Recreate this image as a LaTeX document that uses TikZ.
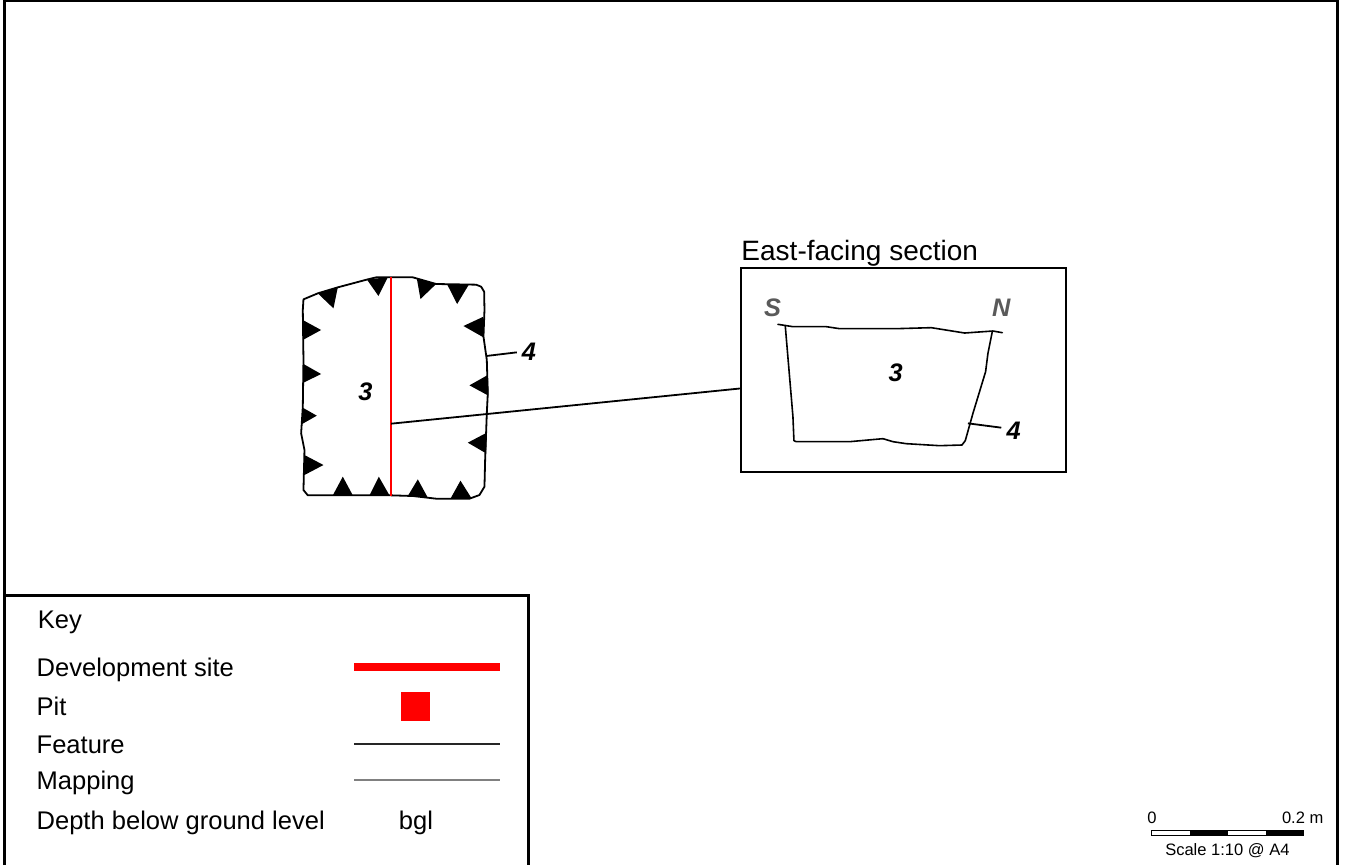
\documentclass[tikz,border=0pt]{standalone}
\usepackage{fontspec}
\setmainfont{Liberation Sans}
\begin{document}
\begin{tikzpicture}[x=0.75pt,y=-0.75pt,
  outl/.style={line width=1.35pt,line join=round,line cap=round,black},
  leader/.style={line width=1.35pt,black},
  tick/.style={fill=black,draw=none},
  num/.style={font=\fontsize{19}{19}\selectfont\bfseries\itshape,inner sep=0pt},
  compass/.style={font=\fontsize{19}{19}\selectfont\bfseries\itshape,text={rgb,255:red,90;green,90;blue,90},inner sep=0pt},
  keytext/.style={font=\fontsize{19.15}{19.15}\selectfont,anchor=base west,inner sep=0pt},
  scaletext/.style={font=\fontsize{12.4}{12.4}\selectfont,inner sep=0pt},
  frameline/.style={line width=1.6pt,black}]
\useasboundingbox[fill=white] (0,0) rectangle (1348,865);
% sheet frame
\draw[frameline] (4.5,865) -- (4.5,1) -- (1337.5,1) -- (1337.5,865);
% plan, coordinates as in 3x crop
\begin{scope}[shift={(209.6pt,-195pt)},x=0.25pt,y=-0.25pt]
\draw[outl] (72,118) -- (115,100) -- (175,82) -- (265,58) -- (290,52) -- (335,52) -- (400,52) -- (470,72) -- (590,74) -- (605,80) -- (614,95) -- (615,150) -- (612,230) -- (622,300) -- (625,400) -- (622,460) -- (617,600) -- (615,680) -- (600,705) -- (570,716) -- (470,716) -- (400,708) -- (335,706) -- (85,706) -- (72,690) -- (75,570) -- (65,520) -- (70,440) -- (72,300) -- (70,150) -- cycle;
\fill[tick] (115,100) -- (175,82) -- (162,145) -- cycle;
\fill[tick] (262,58) -- (325,52) -- (297,108) -- cycle;
\fill[tick] (412,55) -- (470,72) -- (423,117) -- cycle;
\fill[tick] (503,73) -- (568,74) -- (533,132) -- cycle;
\fill[tick] (612,170) -- (612,232) -- (552,198) -- cycle;
\fill[tick] (625,345) -- (627,407) -- (570,376) -- cycle;
\fill[tick] (622,518) -- (620,580) -- (565,548) -- cycle;
\fill[tick] (160,706) -- (220,706) -- (190,650) -- cycle;
\fill[tick] (270,706) -- (330,706) -- (298,650) -- cycle;
\fill[tick] (385,708) -- (445,713) -- (415,658) -- cycle;
\fill[tick] (513,716) -- (577,716) -- (543,662) -- cycle;
\fill[tick] (70,180) -- (125,210) -- (70,240) -- cycle;
\fill[tick] (72,312) -- (125,342) -- (72,368) -- cycle;
\fill[tick] (68,442) -- (112,467) -- (68,492) -- cycle;
\fill[tick] (75,585) -- (132,615) -- (75,645) -- cycle;
\coordinate (cuttop) at (335,52);
\coordinate (cutbot) at (335,708);
\coordinate (cutjoin) at (335,491);
\coordinate (planedge) at (620,288);
\coordinate (planlead) at (712,277);
\node[num] (plan4) at (748,276) {4};
\node[num] (plan3) at (258,396) {3};
\end{scope}
\draw[line width=2pt,red] (cuttop) -- (cutbot);
\draw[leader] (planedge) -- (planlead);
% section
\node[draw=black,line width=1.35pt,minimum width=325*0.75pt,minimum height=203.4*0.75pt,inner sep=0pt,anchor=north west] (secbox) at (739.8,267.4) {};
\node[anchor=base west,inner sep=0pt,font=\fontsize{21}{21}\selectfont] (sectitle) at (741.2,260) {East-facing section};
\draw[leader] (cutjoin) -- (secbox.west |- 0,388.5);
\begin{scope}[shift={(547.2pt,-172.5pt)},x=0.25pt,y=-0.25pt]
\draw[outl,line width=1.2pt] (145,283) -- (190,290) -- (290,290) -- (330,296) -- (500,296) -- (605,293) -- (705,309) -- (790,303) -- (818,308);
\draw[outl,line width=1.2pt] (167,288) -- (190,560) -- (193,632) -- (200,635) -- (360,635) -- (460,626) -- (490,635) -- (530,641) -- (630,647) -- (697,645) -- (707,632) -- (730,550) -- (768,425) -- (775,370) -- (788,305);
\coordinate (secedge) at (715,580);
\coordinate (seclead) at (815,593);
\node[num] (sec4) at (852,601) {4};
\node[num] (sec3) at (498,428) {3};
\node[compass] (secS) at (129,232) {S};
\node[compass] (secN) at (815,232) {N};
\end{scope}
\draw[leader] (secedge) -- (seclead);
% key
\draw[frameline] (5,595.5) -- (528.5,595.5) -- (528.5,865);
\node[keytext] (keyhead) at (37.6,628) {Key};
\node[keytext] (kdev) at (36.4,676) {Development site};
\node[keytext] (kpit) at (36.4,715) {Pit};
\node[keytext] (kfeat) at (36.4,753) {Feature};
\node[keytext] (kmap) at (36.4,789) {Mapping};
\node[keytext] (kdepth) at (36.4,829) {Depth below ground level};
\node[keytext,anchor=base] (kbgl) at (416,829) {bgl};
\fill[red] (354,663) rectangle (500,671);
\fill[red] (401,692) rectangle (430,721);
\draw[line width=1.1pt,black!85] (354,744) -- (500,744);
\draw[line width=1.1pt,black!50] (354,780) -- (500,780);
% scale bar
\draw[line width=0.6pt,black,fill=white] (1151.4,830) rectangle (1303.6,835);
\fill[black] (1190,830) rectangle (1228,835);
\fill[black] (1266,830) rectangle (1303.6,835);
\node[scaletext,anchor=base] (sc0) at (1152,823) {0};
\node[scaletext,anchor=base east] (sc2) at (1323.6,823) {0.2 m};
\node[scaletext,anchor=base] (sclab) at (1227.4,855) {Scale 1:10 @ A4};
\end{tikzpicture}
\end{document}
